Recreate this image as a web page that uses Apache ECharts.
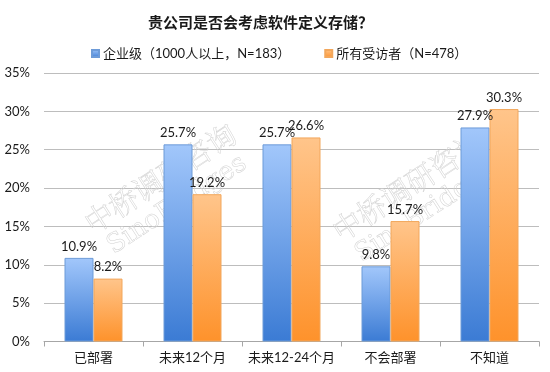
<!DOCTYPE html>
<html>
<head>
<meta charset="utf-8">
<script src="https://cdn.jsdelivr.net/npm/echarts@6/dist/echarts.min.js"></script>
<style>
html,body{margin:0;padding:0;background:#fff;}
#chart{width:550px;height:372px;}
</style>
</head>
<body>
<div id="chart"></div>
<script>
var titleText = '贵公司是否会考虑软件定义存储？';
var categories = ['已部署', '未来12个月', '未来12-24个月', '不会部署', '不知道'];
var seriesNames = ['企业级（1000人以上，N=183）', '所有受访者（N=478）'];
var enterpriseValues = [10.9, 25.7, 25.7, 9.8, 27.9];
var allValues = [8.2, 19.2, 26.6, 15.7, 30.3];
var yMin = 0, yMax = 35, yStep = 5;

var FONT = 'Lato, "Noto Sans CJK SC", sans-serif';
var chart = echarts.init(document.getElementById('chart'), null, {renderer: 'canvas'});

function grad(top, bottom) {
  return new echarts.graphic.LinearGradient(0, 0, 0, 1, [
    {offset: 0, color: top}, {offset: 1, color: bottom}
  ]);
}

function watermark(cx, cy) {
  var rot = 33 * Math.PI / 180;
  var style = {
    fill: 'rgba(255,255,255,0)', stroke: '#d2d2d2', lineWidth: 0.5,
    font: '29px "Noto Serif CJK SC", "DejaVu Serif", serif',
    textAlign: 'center', textVerticalAlign: 'middle'
  };
  var style2 = Object.assign({}, style, {font: '26px "DejaVu Serif", serif'});
  return [
    {type: 'text', x: cx, y: cy, rotation: rot, z: 1, silent: true,
     style: Object.assign({text: '中桥调研咨询'}, style)},
    {type: 'text', x: cx + 17, y: cy + 27, rotation: rot, z: 1, silent: true,
     style: Object.assign({text: 'SinoBridges'}, style2)}
  ];
}

var option = {
  backgroundColor: '#fff',
  animation: false,
  title: {
    text: titleText,
    left: 143, top: 11,
    textStyle: {fontFamily: FONT, fontSize: 15, fontWeight: 'bold', color: '#1a1a1a'}
  },
  legend: {
    data: seriesNames,
    left: 86, top: 42,
    itemWidth: 7, itemHeight: 7, itemGap: 34,
    icon: 'rect',
    textStyle: {fontFamily: FONT, fontSize: 13, color: '#1a1a1a', padding: [0, 0, 0, -1]}
  },
  grid: {left: 44, right: 11, top: 73, bottom: 30.5, containLabel: false},
  graphic: watermark(160, 178).concat(watermark(408, 186)),
  xAxis: {
    type: 'category',
    data: categories,
    boundaryGap: true,
    axisLine: {show: true, lineStyle: {color: '#a6a6a6', width: 1}},
    axisTick: {show: true, length: 5, interval: 0, lineStyle: {color: '#a6a6a6'}},
    axisLabel: {fontFamily: FONT, fontSize: 13, color: '#1a1a1a', margin: 10, interval: 0}
  },
  yAxis: {
    type: 'value',
    min: yMin, max: yMax, interval: yStep,
    axisLine: {show: false},
    axisTick: {show: false},
    splitLine: {show: true, lineStyle: {color: '#bdbdbd', width: 1}},
    axisLabel: {fontFamily: FONT, fontSize: 13, color: '#1a1a1a', margin: 14,
      formatter: '{value}%'}
  },
  series: [
    {
      name: seriesNames[0], type: 'bar', data: enterpriseValues,
      barWidth: 29, barGap: '0%', z: 3,
      itemStyle: {color: grad('#a2c7fb', '#3b7bd4'), borderColor: '#6d9bd8', borderWidth: 1},
      label: {show: true, position: 'top', distance: 5, formatter: '{c}%',
        fontFamily: FONT, fontSize: 13, color: '#1a1a1a'}
    },
    {
      name: seriesNames[1], type: 'bar', data: allValues,
      barWidth: 29, barGap: '0%', z: 3,
      itemStyle: {color: grad('#ffc58b', '#fe922b'), borderColor: '#f2a75c', borderWidth: 1},
      label: {show: true, position: 'top', distance: 5, formatter: '{c}%',
        fontFamily: FONT, fontSize: 13, color: '#1a1a1a'}
    }
  ]
};
chart.setOption(option);
</script>
</body>
</html>
